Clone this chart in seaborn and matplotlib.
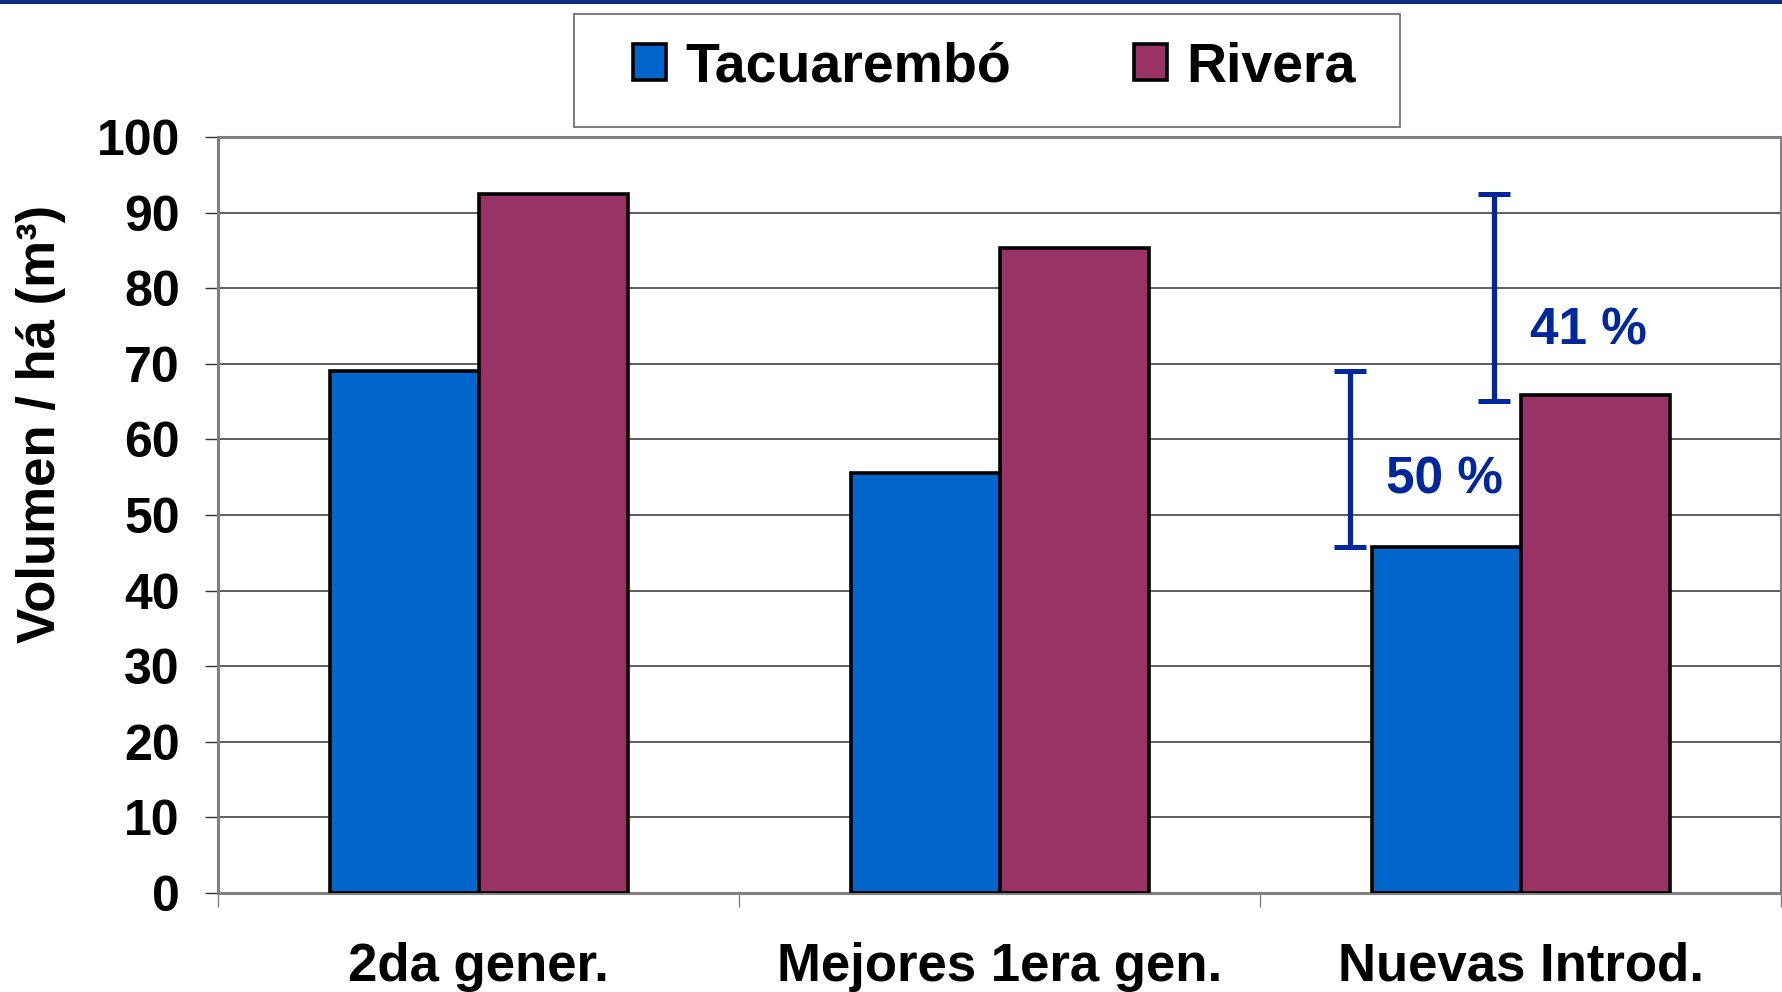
import matplotlib
matplotlib.use("Agg")
import matplotlib.pyplot as plt
from matplotlib.patches import Rectangle
import seaborn as sns
import pandas as pd

# ---- data ----
categories = ["2da gener.", "Mejores 1era gen.", "Nuevas Introd."]
series = ["Tacuarembó", "Rivera"]
tacuarembo = [69.0, 55.5, 45.8]
rivera = [92.5, 85.3, 65.9]
yticks = list(range(0, 101, 10))
pct_labels = ["50 %", "41 %"]

colors = {"Tacuarembó": "#0066CC", "Rivera": "#993366"}
annot_color = "#00289C"

df = pd.DataFrame({
    "cat": categories * 2,
    "serie": [series[0]] * 3 + [series[1]] * 3,
    "val": tacuarembo + rivera,
})

sns.set_theme(style="white")
plt.rcParams["font.family"] = ["Liberation Sans", "DejaVu Sans"]
plt.rcParams["font.weight"] = "bold"
plt.rcParams["axes.labelweight"] = "bold"
plt.rcParams["text.color"] = "black"
plt.rcParams["axes.labelcolor"] = "black"
plt.rcParams["xtick.color"] = "black"
plt.rcParams["ytick.color"] = "black"

fig = plt.figure(figsize=(17.83, 9.92), dpi=100)
fig.patch.set_facecolor("white")
ax = fig.add_axes([0.1223, 0.0998, 0.8766, 0.7621])

sns.barplot(data=df, x="cat", y="val", hue="serie", order=categories,
            hue_order=series, palette=colors, width=0.572, gap=0,
            edgecolor="black", linewidth=2.6, errorbar=None, saturation=1,
            ax=ax, zorder=3)

ax.set_xlim(-0.5, 2.5)
ax.set_ylim(0, 100)
ax.set_yticks(yticks)
ax.set_xticks(range(len(categories)))
ax.set_xticklabels(categories)
ax.set_xticks([-0.5, 0.5, 1.5, 2.5], minor=True)
ax.set_xlabel("")

ax.yaxis.grid(True, color="#333333", lw=1.1)
ax.set_axisbelow(True)
for s in ax.spines.values():
    s.set_color("#808080")
    s.set_linewidth(2.2)
    s.set_visible(True)

ax.tick_params(axis="y", which="major", left=True, length=9.5, width=1,
               color="#333333", labelcolor="black", pad=18, labelsize=36,
               direction="out")
ax.tick_params(axis="x", which="major", bottom=True, length=0, pad=35,
               labelsize=38, labelcolor="black")
ax.tick_params(axis="x", which="minor", bottom=True, length=10, width=1,
               color="#808080", direction="out")

ax.set_ylabel("Volumen / há (m³)", fontsize=38, fontweight="bold",
              color="black")
ax.yaxis.set_label_coords(-0.097, 0.62)

# brackets and percentage labels
brackets = [(1.673, tacuarembo[0], tacuarembo[2]), (1.949, rivera[0], rivera[2] - 0.8)]
cap = 0.031
for (bx, top, bot) in brackets:
    ax.vlines(bx, bot, top, color=annot_color, lw=3.8, zorder=5)
    ax.hlines([bot, top], bx - cap, bx + cap, color=annot_color, lw=3.6, zorder=5)
ax.text(1.854, 54.6, pct_labels[0], color=annot_color, fontsize=37,
        fontweight="bold", ha="center", va="center", zorder=6)
ax.text(2.131, 74.3, pct_labels[1], color=annot_color, fontsize=37,
        fontweight="bold", ha="center", va="center", zorder=6)

# legend
handles, labels = ax.get_legend_handles_labels()
if ax.get_legend() is not None:
    ax.get_legend().remove()
fig.legend(handles, labels, loc="center", bbox_to_anchor=(0.5577, 0.932),
           ncol=2, frameon=False, fontsize=40, handlelength=0.6,
           handleheight=0.6, handletextpad=0.35, columnspacing=2.2,
           prop={"weight": "bold", "size": 40})
fig.patches.append(Rectangle((574 / 1783, 1 - 127 / 992), (1400 - 574) / 1783,
                             113 / 992, transform=fig.transFigure, fill=False,
                             ec="#666666", lw=1.2))
# top navy band
fig.patches.append(Rectangle((0, 1 - 4 / 992), 1, 4 / 992,
                             transform=fig.transFigure, fc="#142C80", ec="none"))

fig.savefig("out.png", dpi=100)
